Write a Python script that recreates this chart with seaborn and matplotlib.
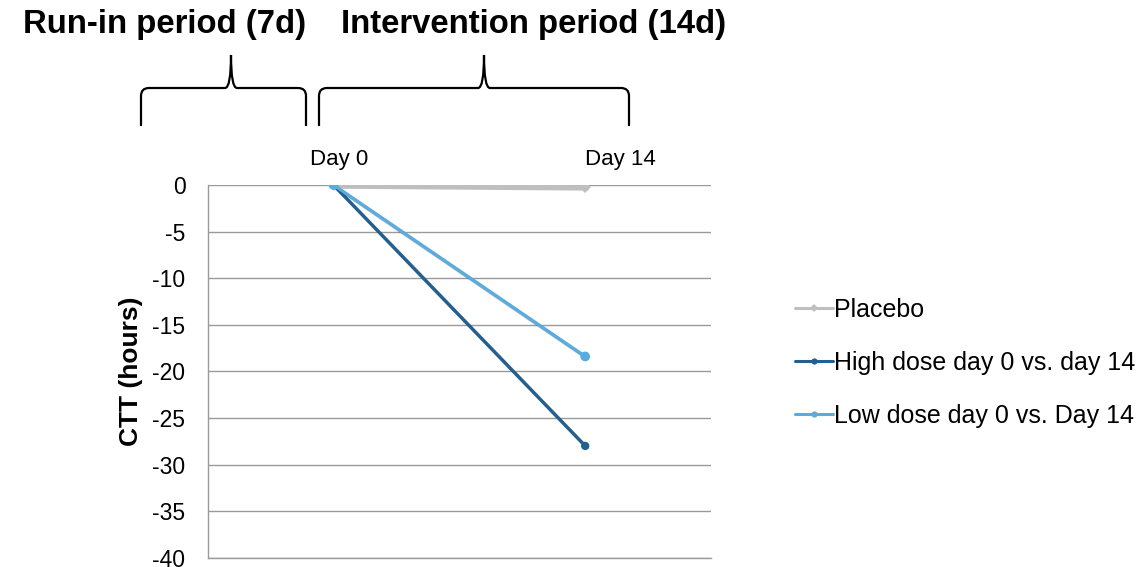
import numpy as np
import pandas as pd
import matplotlib
matplotlib.use("Agg")
import matplotlib.pyplot as plt
import matplotlib.patheffects as pe
from matplotlib.path import Path
from matplotlib.patches import PathPatch
import seaborn as sns

# Change in colonic transit time (hours) relative to day 0
days = ["Day 0", "Day 14"]
series_names = ["Placebo", "High dose day 0 vs. day 14", "Low dose day 0 vs. Day 14"]
placebo = [0.0, -0.2]
high_dose = [0.0, -28.0]
low_dose = [0.0, -18.4]
y_ticks = [0, -5, -10, -15, -20, -25, -30, -35, -40]
period_titles = ["Run-in period (7d)", "Intervention period (14d)"]

colors = {"Placebo": "#bfbfbf",
          "High dose day 0 vs. day 14": "#23608f",
          "Low dose day 0 vs. Day 14": "#5aabe0"}
markers = {"Placebo": "D",
           "High dose day 0 vs. day 14": "o",
           "Low dose day 0 vs. Day 14": "o"}
marker_sizes = {"Placebo": 6, "High dose day 0 vs. day 14": 6, "Low dose day 0 vs. Day 14": 7}

rows = []
for name, vals in zip(series_names, [placebo, high_dose, low_dose]):
    for i, v in enumerate(vals):
        rows.append({"pos": i, "day": days[i], "value": v, "series": name})
df = pd.DataFrame(rows)

sns.set_theme(style="white")
plt.rcParams["font.family"] = ["Liberation Sans", "DejaVu Sans"]
plt.rcParams["text.color"] = "black"
plt.rcParams["axes.labelcolor"] = "black"
plt.rcParams["ytick.color"] = "black"

W, H = 1145, 567
fig = plt.figure(figsize=(W / 100, H / 100), dpi=100)
ax = fig.add_axes([207.7 / W, 1 - 557.7 / H, (711 - 207.7) / W, (557.7 - 185) / H])

shadow = [pe.SimpleLineShadow(offset=(1.5, -1.5), alpha=0.25, shadow_color="black"), pe.Normal()]
for name in series_names:
    sub = df[df["series"] == name]
    sns.lineplot(data=sub, x="pos", y="value", ax=ax, color=colors[name],
                 marker=markers[name], markersize=marker_sizes[name],
                 markeredgewidth=0, linewidth=2.4, label=name,
                 path_effects=shadow, zorder=3 if name != "Placebo" else 2)

ax.set_xlim(-0.5, 1.5)
ax.set_ylim(-40, 0)
ax.set_yticks(y_ticks)
ax.set_yticklabels([str(t) for t in y_ticks], fontsize=16.5, color="black")
ax.set_xticks([])
ax.set_xlabel("")
ax.set_ylabel("CTT (hours)", fontsize=19, fontweight="bold", labelpad=7, color="black")
ax.tick_params(axis="y", length=0, pad=16)
ax.yaxis.grid(True, color="#9a9a9a", linewidth=1.0)
ax.set_axisbelow(True)
for side in ["top", "right"]:
    ax.spines[side].set_visible(False)
for side in ["left", "bottom"]:
    ax.spines[side].set_color("#9a9a9a")
    ax.spines[side].set_linewidth(1.0)

# Day labels above the plot
for label, xc in zip(days, [339, 620]):
    fig.text(xc / W, 1 - 160 / H, label, ha="center", va="center", fontsize=16, color="black")

# Legend to the right (plain handles, no shadow)
legend_handles = [plt.Line2D([], [], color=colors[n], marker=markers[n], markersize=4.5,
                             markeredgewidth=0, linewidth=2.2) for n in series_names]
leg = ax.legend(legend_handles, series_names, loc="center left",
                bbox_to_anchor=(795 / W, 1 - 363 / H),
                bbox_transform=fig.transFigure, frameon=False, fontsize=18,
                handlelength=1.5, handletextpad=0.05, labelspacing=1.16, borderpad=0,
                borderaxespad=0)
for t in leg.get_texts():
    t.set_color("black")

# Curly brackets marking the study periods
def brace(x0, x1, xp, y_leg, y_bar, y_tip, r=8, c=6):
    verts = [
        (x0, y_leg), (x0, y_bar + r), (x0, y_bar), (x0 + r, y_bar),
        (xp - c, y_bar), (xp, y_bar), (xp, y_tip),
        (xp, y_bar), (xp + c, y_bar),
        (x1 - r, y_bar), (x1, y_bar), (x1, y_bar + r), (x1, y_leg),
    ]
    codes = [Path.MOVETO, Path.LINETO, Path.CURVE3, Path.CURVE3,
             Path.LINETO, Path.CURVE3, Path.CURVE3,
             Path.CURVE3, Path.CURVE3,
             Path.LINETO, Path.CURVE3, Path.CURVE3, Path.LINETO]
    pts = [(x / W, 1 - y / H) for x, y in verts]
    patch = PathPatch(Path(pts, codes), transform=fig.transFigure, fill=False,
                      edgecolor="black", linewidth=1.6)
    fig.add_artist(patch)

brace(141, 306, 231, 126, 88, 55)
brace(319, 629, 484, 126, 88, 55)

for title, xc in zip(period_titles, [165, 533.5]):
    fig.text(xc / W, 1 - 25 / H, title, ha="center", va="center",
             fontsize=23.7, fontweight="bold", color="black")

fig.savefig("out.png", dpi=100)
